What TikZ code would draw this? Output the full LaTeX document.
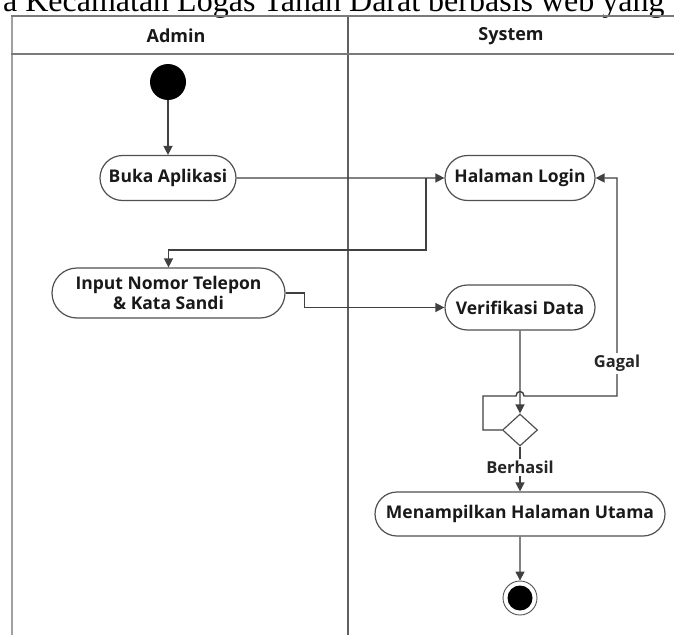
\documentclass[tikz,border=0pt]{standalone}
\usepackage{fontspec}
\setmainfont{Liberation Serif}
\newfontfamily\uifont{Open Sans}
\usetikzlibrary{arrows.meta,shapes.geometric,shapes.misc}

\definecolor{linegray}{HTML}{404040}
\definecolor{boxgray}{HTML}{505050}
\definecolor{lanelight}{HTML}{A0A0A0}
\definecolor{lanedark}{HTML}{606060}
\definecolor{hdrgray}{HTML}{7A7A7A}

\tikzset{
  act/.style={rounded rectangle, draw=boxgray, line width=1.2pt, fill=white,
    font=\uifont\bfseries\fontsize{17.5}{20}\selectfont, text=black!90,
    align=center, minimum height=45, inner xsep=0pt, inner ysep=0pt},
  decision/.style={diamond, draw=boxgray, line width=1.2pt, fill=white,
    minimum width=35, minimum height=32, inner sep=0pt},
  startnode/.style={ellipse, fill=black, minimum width=36, minimum height=36, inner sep=0pt},
  endnode/.style={circle, draw=boxgray, line width=0.9pt, minimum size=34, inner sep=0pt,
    path picture={\fill[black] (path picture bounding box.center) circle (12.5pt);}},
  flow/.style={draw=linegray, line width=1.4pt,
    -{Triangle[length=9pt,width=9pt]}},
  lbl/.style={fill=white, inner sep=2pt, font=\uifont\bfseries\fontsize{16.5}{18}\selectfont, text=black!85},
  hdrtext/.style={font=\uifont\bfseries\fontsize{18}{20}\selectfont, text=black!90},
  lanel/.style={draw=lanelight, line width=2pt},
  laned/.style={draw=lanedark, line width=2.2pt},
  hdrline/.style={draw=hdrgray, line width=2.6pt}
}

\begin{document}
\begin{tikzpicture}[x=1pt,y=-1pt]
\useasboundingbox (0,0) rectangle (674,634);
\clip (0,0) rectangle (674,634);
\fill[white] (0,0) rectangle (674,634);

% caption line running above the frame
\node[anchor=base west, inner sep=0pt, font=\fontsize{32}{36}\selectfont] (caption)
  at (-6,12) {ja Kecamatan Logas Tanah Darat berbasis web yang};

% swimlane frame
\draw[lanel] (12,16) -- (12,640);
\draw[laned] (348,16) -- (348,640);
\draw[hdrline] (11,16) -- (680,16);
\draw[hdrline] (11,54) -- (680,54);
\node[hdrtext] (admin) at (176,36) {Admin};
\node[hdrtext] (system) at (511,36) {System};

% activities
\node[startnode] (start) at (168,82) {};
\node[act, minimum width=136] (buka) at (168,178) {Buka Aplikasi};
\node[act, minimum width=150] (login) at (520,178) {Halaman Login};
\node[act, minimum width=233, minimum height=50] (input) at (168.5,293)
  {Input Nomor Telepon\\\& Kata Sandi};
\node[act, minimum width=150] (verif) at (520,307.5) {Verifikasi Data};
\node[decision] (dec) at (520,430) {};
\node[act, minimum width=290, minimum height=44] (tampil) at (520,514)
  {Menampilkan Halaman Utama};
\node[endnode] (end) at (520,598) {};

% bends
\coordinate (j1) at (426,178);
\coordinate (j2) at (426,250);
\coordinate (l1) at (483,430);
\coordinate (l2) at (483,396);
\coordinate (l3) at (617,396);
\coordinate (l4) at (617,178);

% flows
\draw[flow] (start) -- (buka);
\draw[flow] (buka) -- (login);
\draw[flow] (j1) -- (j2) -| (input.north);
\draw[flow] (input.east) -- ++(19,0) |- (verif.west);
\draw[flow] (verif) -- (dec);
\draw[flow] (dec.west) -- (l1) -- (l2) -- (516,396)
  .. controls (516,390) and (524,390) .. (524,396) -- (l3)
  -- node[lbl, pos=0.15] {Gagal} (l4) -- (login.east);
\draw[flow] (dec.south) -- node[lbl, pos=0.47] {Berhasil} (tampil.north);
\draw[flow] (tampil) -- (end);
\end{tikzpicture}
\end{document}
